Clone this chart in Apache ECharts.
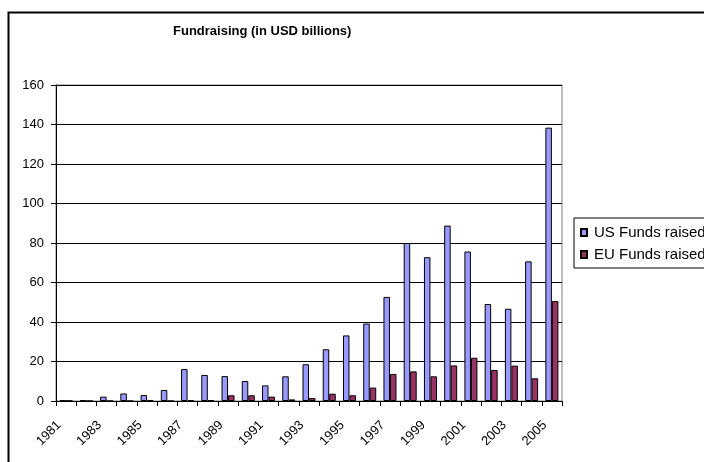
<!DOCTYPE html>
<html>
<head>
<meta charset="utf-8">
<script src="https://cdn.jsdelivr.net/npm/echarts@6/dist/echarts.min.js"></script>
<style>
  html, body { margin: 0; padding: 0; background: #fff; }
  #chart { width: 704px; height: 462px; }
</style>
</head>
<body>
<div id="chart"></div>
<script>
// 年份
var years = ['1981', '1982', '1983', '1984', '1985', '1986', '1987', '1988', '1989', '1990',
	'1991', '1992', '1993', '1994', '1995', '1996', '1997', '1998', '1999', '2000',
	'2001', '2002', '2003', '2004', '2005'];
// 美国募资 (十亿美元)
var usFunds = [0.5, 0.5, 2.2, 3.8, 3, 5.6, 16.2, 13.2, 12.6, 10.1,
	7.9, 12.5, 18.6, 26.2, 33.2, 39.2, 52.7, 80, 72.8, 88.8,
	75.7, 49.1, 46.7, 70.7, 138.4];
// 欧洲募资
var euFunds = [0.1, 0, 0, 0, 0.5, 0, 0.5, 0.5, 2.9, 2.9,
	2.2, 0.8, 1.5, 3.7, 2.9, 6.8, 13.7, 15, 12.5, 18,
	21.9, 15.7, 17.9, 11.5, 50.6];
// y轴刻度
var yMin = 0, yMax = 160, yStep = 20;

var font = 'Liberation Sans';
var myChart = echarts.init(document.getElementById('chart'));

var option = {
	backgroundColor: '#fff',
	animation: false,
	title: {
		text: 'Fundraising (in USD billions)',
		left: 173,
		top: 25,
		padding: 0,
		textStyle: { fontFamily: font, fontSize: 13, fontWeight: 'bold', color: '#000' }
	},
	//外框
	graphic: [{
		type: 'rect',
		left: 6,
		top: 10,
		shape: { width: 800, height: 520 },
		style: { fill: 'none', stroke: '#000', lineWidth: 2 }
	}],
	legend: {
		orient: 'vertical',
		left: 574,
		top: 218,
		padding: [7, 20, 6, 6],
		icon: 'rect',
		itemWidth: 6,
		itemHeight: 7,
		itemGap: 7,
		borderColor: '#000',
		borderWidth: 1,
		textStyle: { fontFamily: font, fontSize: 15, color: '#000', padding: [0, 0, 0, 2] },
		data: ['US Funds raised', 'EU Funds raised']
	},
	grid: {
		left: 56,
		right: 142,
		top: 85,
		bottom: 61,
		show: true,
		borderColor: '#808080',
		borderWidth: 1
	},
	xAxis: {
		type: 'category',
		data: years,
		axisLine: { lineStyle: { color: '#000', width: 1 } },
		axisTick: { show: true, interval: 0, length: 5, lineStyle: { color: '#000' } },
		axisLabel: {
			interval: 1,
			rotate: 45,
			margin: 15,
			padding: [0, 10, 0, 0],
			fontFamily: font,
			fontSize: 13,
			color: '#000'
		}
	},
	yAxis: {
		type: 'value',
		min: yMin,
		max: yMax,
		interval: yStep,
		axisLine: { show: true, lineStyle: { color: '#000', width: 1 } },
		axisTick: { show: true, length: 5, lineStyle: { color: '#000' } },
		axisLabel: { margin: 12, fontFamily: font, fontSize: 13, color: '#000' },
		splitLine: { show: true, lineStyle: { color: '#000', width: 1 } }
	},
	series: [{
		name: 'US Funds raised',
		type: 'bar',
		data: usFunds,
		barWidth: 6.5,
		barGap: '0%',
		itemStyle: { color: '#9999FF', borderColor: '#000', borderWidth: 1 }
	}, {
		name: 'EU Funds raised',
		type: 'bar',
		data: euFunds,
		barWidth: 6.5,
		barGap: '0%',
		itemStyle: { color: '#993366', borderColor: '#000', borderWidth: 1 }
	}]
};

myChart.setOption(option);
</script>
</body>
</html>
